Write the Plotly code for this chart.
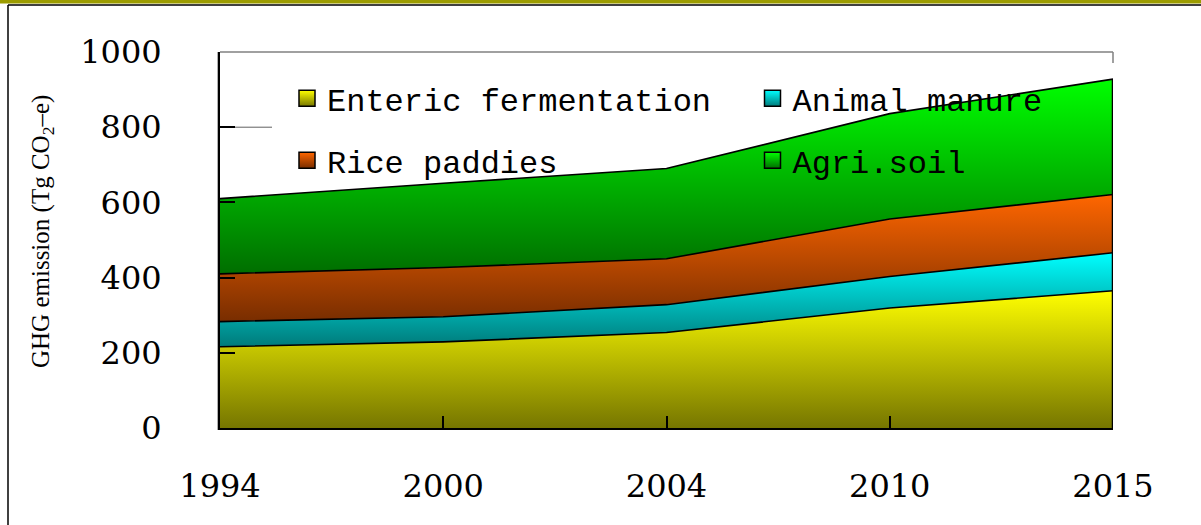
import numpy as np
import plotly.graph_objects as go

# ---- data ----
years = ['1994', '2000', '2004', '2010', '2015']
enteric = [216, 229, 254, 319, 365]
manure = [67, 67, 74, 84, 101]
rice = [127, 131, 122, 153, 155]
soil = [200, 224, 240, 280, 307]

names = ['Enteric fermentation', 'Animal manure', 'Rice paddies', 'Agri.soil']
top_colors = ['#ffff00', '#00ffff', '#ff6600', '#00ff00']
bottom_colors = ['#767600', '#007a7a', '#782d00', '#006e00']
y_ticks = [0, 200, 400, 600, 800, 1000]

series = np.array([enteric, manure, rice, soil], dtype=float)
cum = np.cumsum(series, axis=0)
lower = np.vstack([np.zeros(len(years)), cum[:-1]])

# layout geometry (pixels)
W, H = 1201, 525
L, R, T, B = 220, 88, 52, 97
pw, ph = W - L - R, H - T - B


def px_x(p):
    return (p - L) / pw


def px_y(p):
    return (H - B - p) / ph


fig = go.Figure()

for i in range(4):
    fig.add_trace(go.Scatter(
        x=years, y=series[i], stackgroup='one', mode='lines',
        line=dict(color='black', width=1.6),
        fillgradient=dict(type='vertical',
                          colorscale=[[0, bottom_colors[i]], [1, top_colors[i]]],
                          start=float(lower[i].min()), stop=float(cum[i].max())),
        showlegend=False, hoverinfo='skip', name=names[i]))

# right edge of the stacked area
fig.add_trace(go.Scatter(x=[years[-1], years[-1]], y=[0, float(cum[-1][-1])],
                         mode='lines', line=dict(color='black', width=2.5),
                         showlegend=False, hoverinfo='skip'))

# legend entries (square gradient swatches)
legend_ids = ['legend', 'legend2', 'legend3', 'legend4']
for i in range(4):
    fig.add_trace(go.Scatter(
        x=[None], y=[None], mode='markers', name=names[i],
        marker=dict(symbol='square', size=16, color=top_colors[i],
                    gradient=dict(type='vertical', color=bottom_colors[i]),
                    line=dict(color='black', width=1.5)),
        legend=legend_ids[i]))

leg_font = dict(family='Liberation Mono', size=32, color='black')
col_x = [px_x(287), px_x(752.5)]
row_y = [px_y(98.5), px_y(160.5)]
order = [(0, 0), (0, 1), (1, 0), (1, 1)]  # (row, col) for each series
legends = {}
for i, (r, c) in enumerate(order):
    legends[legend_ids[i]] = dict(x=col_x[c], y=row_y[r], xanchor='left', yanchor='middle',
                                  bgcolor='rgba(0,0,0,0)', borderwidth=0, font=leg_font)

axis_font = dict(family='DejaVu Serif', size=32, color='black')

fig.update_layout(
    width=W, height=H,
    margin=dict(l=L, r=R, t=T, b=B, pad=0),
    paper_bgcolor='white', plot_bgcolor='white',
    showlegend=True,
    xaxis=dict(type='category', range=[0, len(years) - 1], showgrid=False, zeroline=False,
               showline=True, linecolor='black', linewidth=2,
               ticks='inside', ticklen=12, tickwidth=1.5, tickcolor='black',
               tickfont=axis_font, ticklabelstandoff=29),
    yaxis=dict(range=[0, 1000], tickvals=y_ticks, showgrid=False, zeroline=False,
               showline=True, linecolor='black', linewidth=2,
               ticks='inside', ticklen=15, tickwidth=1.5, tickcolor='black',
               tickfont=axis_font, ticklabelstandoff=50),
    **legends,
)

shapes = [
    # olive band at the very top
    dict(type='rect', xref='paper', yref='paper', x0=px_x(0), x1=px_x(W), y0=px_y(3.5), y1=px_y(-1),
         fillcolor='#9c9c00', line=dict(width=0), layer='above'),
    # outer frame: top and left lines
    dict(type='line', xref='paper', yref='paper', x0=px_x(8), x1=px_x(W + 2), y0=px_y(5), y1=px_y(5),
         line=dict(color='black', width=1.5)),
    dict(type='line', xref='paper', yref='paper', x0=px_x(8), x1=px_x(8), y0=px_y(5), y1=px_y(H + 2),
         line=dict(color='black', width=1.5)),
    # plot top frame line and right stub
    dict(type='line', xref='paper', yref='paper', x0=0, x1=1, y0=1, y1=1,
         line=dict(color='#808080', width=1.5)),
    dict(type='line', xref='paper', yref='paper', x0=1, x1=1, y0=1, y1=px_y(63),
         line=dict(color='#808080', width=1.5)),
    # faint line near 800
    dict(type='line', xref='paper', yref='y', x0=px_x(235), x1=px_x(272), y0=800, y1=800,
         line=dict(color='#606060', width=1)),
    # grey shadow of the left axis
    dict(type='line', xref='paper', yref='paper', x0=px_x(217.5), x1=px_x(217.5), y0=1, y1=px_y(430),
         line=dict(color='#b0b0b0', width=1)),
]
fig.update_layout(shapes=shapes)

fig.add_annotation(
    text='GHG emission (Tg CO<sub>2</sub>–e)', textangle=-90,
    xref='paper', yref='paper', x=px_x(42), y=px_y(232), xanchor='center', yanchor='middle',
    showarrow=False, font=dict(family='Liberation Serif', size=25, color='black'))

fig.write_html('out.html', config={'displayModeBar': False},
               post_script="document.body.style.margin='0';")
